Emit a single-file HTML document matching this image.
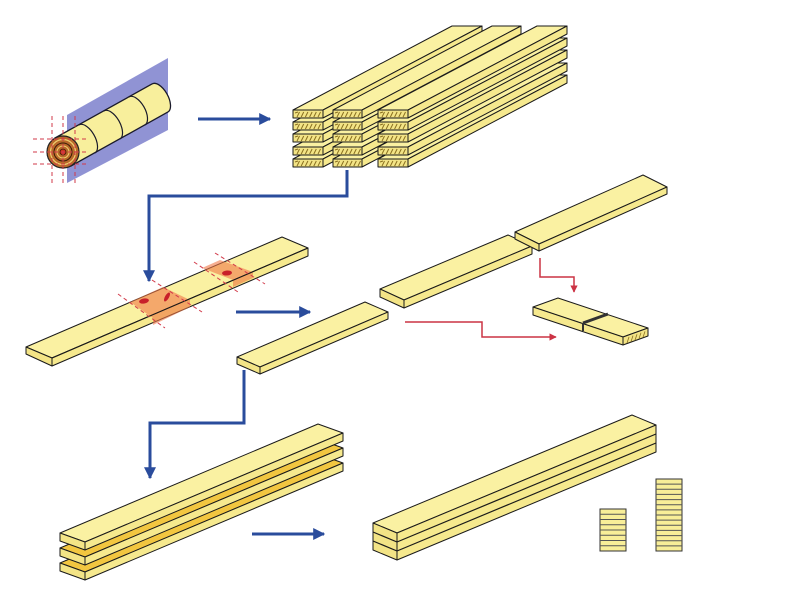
<!DOCTYPE html>
<html><head><meta charset="utf-8"><style>html,body{margin:0;padding:0;background:#fff;width:800px;height:600px;overflow:hidden}</style></head>
<body>
<svg id="s" width="800" height="600" viewBox="0 0 800 600" xmlns="http://www.w3.org/2000/svg">
<defs>
<marker id="ab" viewBox="0 0 10 10" refX="9" refY="5" markerWidth="4" markerHeight="4" orient="auto"><path d="M0,0 L10,5 L0,10 z" fill="#2a4c9c"/></marker>
<marker id="ar" viewBox="0 0 10 10" refX="9" refY="5" markerWidth="5" markerHeight="5" orient="auto"><path d="M0,0 L10,5 L0,10 z" fill="#cc3344"/></marker>
</defs>
<!-- log -->
<polygon points="67,115 168,58 168,130 67,183" fill="#7c80cc" opacity="0.85"/>
<path d="M55,138 L152,84 A8,16 -29 0 1 168,112 L71,166 Z" fill="#f8ef9c" stroke="#1a1a2a" stroke-width="1.3"/>
<path d="M79,125 A8,16 -29 0 1 95,153" fill="none" stroke="#1a1a2a" stroke-width="1.2"/>
<path d="M104,111 A8,16 -29 0 1 120,139" fill="none" stroke="#1a1a2a" stroke-width="1.2"/>
<path d="M129,97 A8,16 -29 0 1 145,125" fill="none" stroke="#1a1a2a" stroke-width="1.2"/>
<circle cx="63" cy="152" r="16" fill="#b8692a" stroke="#222" stroke-width="1.2"/>
<circle cx="63" cy="152" r="12.5" fill="none" stroke="#f0d070" stroke-width="1.2"/>
<circle cx="63" cy="152" r="9" fill="none" stroke="#3a1a08" stroke-width="1"/>
<circle cx="63" cy="152" r="6" fill="none" stroke="#f0d070" stroke-width="1"/>
<circle cx="63" cy="152" r="3" fill="#cc3322" stroke="#3a1a08" stroke-width="0.8"/>
<g stroke="#d23a4a" stroke-width="1" stroke-dasharray="4,3" fill="none">
<line x1="52" y1="116" x2="52" y2="184"/><line x1="63" y1="116" x2="63" y2="184"/><line x1="75" y1="116" x2="75" y2="184"/>
<line x1="33" y1="139" x2="88" y2="139"/><line x1="33" y1="152" x2="88" y2="152"/><line x1="33" y1="164" x2="88" y2="164"/>
</g>
<g stroke="#2a4c9c" stroke-width="3" fill="none">
<line x1="198" y1="119" x2="270" y2="119" marker-end="url(#ab)"/>
<polyline points="347,170 347,196 149,196 149,281" marker-end="url(#ab)"/>
<line x1="236" y1="312" x2="310" y2="312" marker-end="url(#ab)"/>
<polyline points="244,370 244,423 150,423 150,478" marker-end="url(#ab)"/>
<line x1="252" y1="534" x2="324" y2="534" marker-end="url(#ab)"/>
</g>
<g id="boxes"></g>
<g id="over"></g>
</svg>
<script>
var ns="http://www.w3.org/2000/svg";
var G=document.getElementById('boxes');
function poly(pts,fill,parent,sw){var p=document.createElementNS(ns,'polygon');p.setAttribute('points',pts.map(function(q){return q[0]+','+q[1]}).join(' '));p.setAttribute('fill',fill);p.setAttribute('stroke','#1a1a1a');p.setAttribute('stroke-width',sw||1);p.setAttribute('stroke-linejoin','round');(parent||G).appendChild(p);return p;}
function line(a,b,col,w,parent,dash){var l=document.createElementNS(ns,'line');l.setAttribute('x1',a[0]);l.setAttribute('y1',a[1]);l.setAttribute('x2',b[0]);l.setAttribute('y2',b[1]);l.setAttribute('stroke',col);l.setAttribute('stroke-width',w);if(dash)l.setAttribute('stroke-dasharray',dash);(parent||G).appendChild(l);}
function add(p,v){return [p[0]+v[0],p[1]+v[1]];}
function box(A,B,C,D,L,top,side,end){
 poly([A,B,add(B,L),add(A,L)],top||'#faf1a2');
 poly([B,C,add(C,L),add(B,L)],side||'#f6e98e');
 poly([A,B,C,D],end||'#f3e486');
}
// lumber stack
var cols=[[293,323],[333,362],[378,408]];var rows=[159,147,134,122,110];var Ls=[159,-84];
cols.forEach(function(c){rows.forEach(function(y){
 var A=[c[0],y],B=[c[1],y],C=[c[1],y+8],D=[c[0],y+8];
 box(A,B,C,D,Ls);
 for(var i=0;i<6;i++){var x=c[0]+4+i*4.2;line([x,y+7],[x+2.5,y+2],'#8a7020',1);}
 line([c[0]+2,y+3],[c[0]+5,y+2],'#8a7020',1);
});});
// board with patches
box([26,347],[52,358],[52,366],[26,354],[256,-110]);
var O=document.getElementById('over');
poly([[130,302],[163,287],[190,300],[190,307],[153,325],[153,318]],'rgba(240,120,70,0.6)',O,0).setAttribute('stroke','none');
poly([[202,268],[220,260],[253,272],[253,278],[233,287],[233,280]],'rgba(240,120,70,0.6)',O,0).setAttribute('stroke','none');
line([52,358],[308,248],'#1a1a1a',1,O);
[[[118,294],[165,328]],[[152,280],[202,312]],[[194,262],[238,292]],[[215,253],[265,284]]].forEach(function(s){line(s[0],s[1],'#d23a4a',1,O,'4,3');});
function ell(cx,cy,rx,ry,rot){var e=document.createElementNS(ns,'ellipse');e.setAttribute('cx',cx);e.setAttribute('cy',cy);e.setAttribute('rx',rx);e.setAttribute('ry',ry);e.setAttribute('fill','#c8202a');e.setAttribute('transform','rotate('+rot+' '+cx+' '+cy+')');O.appendChild(e);}
ell(144,301,5,2.5,-10);ell(167,297,2,5,30);ell(227,273,5,2.5,-5);
// cut boards
box([237,357],[260,367],[260,374],[237,364],[128,-55]);
box([380,289],[404,300],[404,308],[380,297],[128,-54]);
box([515,232],[539,244],[539,251],[515,239],[128,-57]);
// small jointed piece
poly([[533,307],[558,298],[648,328],[623,337]],'#faf1a2');
poly([[533,307],[623,337],[623,345],[533,315]],'#f6e98e');
poly([[623,337],[648,328],[648,336],[623,345]],'#f3e486');
line([583,323],[608,314],'#333',3);line([583,323],[583,331],'#333',2);
for(var i=0;i<5;i++){line([627+i*4,343-i*1.4],[629+i*4,337-i*1.4],'#8a7020',0.8);}
// red arrows
var R=document.getElementById('s');
function pl(pts,col,w,mk){var p=document.createElementNS(ns,'polyline');p.setAttribute('points',pts);p.setAttribute('fill','none');p.setAttribute('stroke',col);p.setAttribute('stroke-width',w);if(mk)p.setAttribute('marker-end',mk);R.appendChild(p);}
pl('540,258 540,277 574,277 574,292','#cc3344',1.5,'url(#ar)');
pl('405,322 482,322 482,337 556,337','#cc3344',1.5,'url(#ar)');
// lamination
var Lm=[258,-109];
[[563,'#f2c640'],[548,'#f2c640'],[533,'#faf1a2']].forEach(function(b){var y=b[0];box([60,y],[85,y+9],[85,y+17],[60,y+8],Lm,b[1]);});
// glued beam
var Lb=[259,-108];
box([373,523],[397,533],[397,560],[373,550],Lb);
[9,18].forEach(function(d){line([373,523+d],[397,533+d],'#1a1a1a',1.2);line([397,533+d],[656,425+d],'#1a1a1a',1.2);});
// blocks
function blk(x,y,w,h,n){var r=document.createElementNS(ns,'rect');r.setAttribute('x',x);r.setAttribute('y',y);r.setAttribute('width',w);r.setAttribute('height',h);r.setAttribute('fill','#f8ee98');r.setAttribute('stroke','#333');r.setAttribute('stroke-width',1);R.appendChild(r);for(var i=1;i<n;i++){line([x,y+h*i/n],[x+w,y+h*i/n],'#555',1,R);}}
blk(600,509,26,42,8);blk(656,479,26,72,14);
</script>
</body></html>
